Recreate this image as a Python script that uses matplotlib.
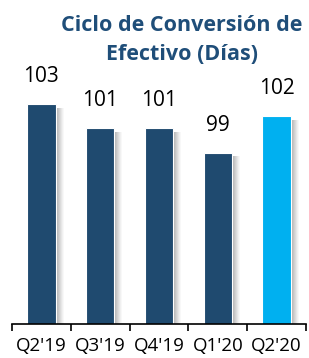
import matplotlib
matplotlib.use("Agg")
import matplotlib.pyplot as plt
import numpy as np

categories = ["Q2'19", "Q3'19", "Q4'19", "Q1'20", "Q2'20"]
values = [103, 101, 101, 99, 102]
colors = ["#1F4A6F", "#1F4A6F", "#1F4A6F", "#1F4A6F", "#00B0F0"]
title = "Ciclo de Conversión de\nEfectivo (Días)"

plt.rcParams['font.family'] = ['Open Sans', 'DejaVu Sans']

W, H = 309, 358
fig = plt.figure(figsize=(W / 100, H / 100), dpi=100)
ax = fig.add_axes([12 / W, 1 - 324 / H, (306 - 12) / W, (324 - 60) / H])

x = np.arange(len(categories))
width = 0.48
base = 85.0
px = 1 / 58.8  # one pixel in category units
py = 1 / 12.25  # one pixel in value units

# soft shadow on right side
n = 8
for i in range(n):
    a = 0.42 * (1 - i / n) ** 1.2
    ax.bar(x + width / 2 + (i + 0.5) * px, [v - base - 4 * py for v in values],
           width=px * 1.02, bottom=base, color="#404040", alpha=a, linewidth=0, zorder=1)

ax.bar(x, [v - base for v in values], width=width, bottom=base, color=colors,
       edgecolor="white", linewidth=0.8, zorder=2)

for xi, v in zip(x, values):
    ax.annotate(str(v), (xi, v), xytext=(0, 12), textcoords="offset points",
                ha="center", va="bottom", fontsize=15, color="black")

ax.set_xlim(-0.5, len(categories) - 0.5)
ax.set_ylim(base, base + (324 - 60) * py)
ax.set_yticks([])
for s in ["top", "right", "left"]:
    ax.spines[s].set_visible(False)
ax.spines["bottom"].set_color("black")
ax.spines["bottom"].set_linewidth(1.2)
ax.set_xticks(np.arange(len(categories) + 1) - 0.5, minor=False)
ax.set_xticklabels([])
ax.tick_params(axis="x", length=5, width=1.2, direction="out", color="black")
ax.set_xticks(x, minor=True)
ax.set_xticklabels(categories, minor=True, fontsize=13.5)
ax.tick_params(axis="x", which="minor", length=0, pad=9)

fig.text(182 / W, 1 - 40 / H, title, ha="center", va="center",
         fontsize=15.5, fontweight="bold", color="#1F4E79", linespacing=1.45)

fig.savefig("out.png", dpi=100)
